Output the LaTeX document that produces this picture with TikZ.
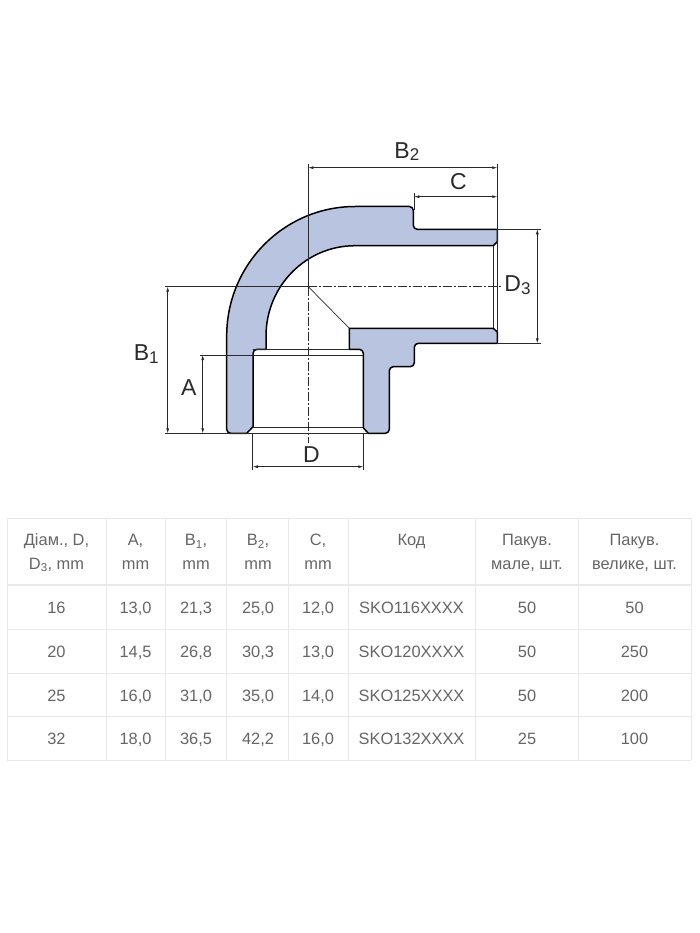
\documentclass[tikz,border=0pt]{standalone}
\usepackage{fontspec}
\setmainfont{Liberation Sans}
\usetikzlibrary{arrows.meta}
\definecolor{bodyblue}{HTML}{B9C4E0}
\definecolor{gridgrey}{HTML}{E9E9E9}
\definecolor{textgrey}{HTML}{666666}
\definecolor{inkgrey}{HTML}{2A2A2A}
\newcommand{\dimsub}[1]{\raisebox{-2.5pt}{\fontsize{17}{17}\selectfont #1}}
\tikzset{
outline/.style={draw=black, fill=bodyblue, line width=1.5pt, line join=round},
bore/.style={draw=inkgrey, line width=1pt},
extline/.style={draw=inkgrey, line width=0.7pt},
dimline/.style={draw=inkgrey, line width=0.7pt, {Latex[length=5pt,width=3pt]}-{Latex[length=5pt,width=3pt]}},
axisline/.style={draw=inkgrey, line width=0.7pt, dash pattern=on 9pt off 2pt on 2pt off 2pt},
dimlabel/.style={text=inkgrey, inner sep=0pt, anchor=base, font=\fontsize{23}{23}\selectfont},
grid/.style={draw=gridgrey, line width=0.8pt},
gridhead/.style={draw=gridgrey, line width=2pt},
cell/.style={text=textgrey, inner sep=0pt, anchor=base, font=\fontsize{16.4}{23.3}\selectfont},
}

\begin{document}
\begin{tikzpicture}[x=1pt, y=-1pt]
    \useasboundingbox[fill=white] (0,0) rectangle (700,933);

    %fitting body
    \path[outline] (226.7,426) -- (226.7,336) arc[start angle=180, end angle=90, x radius=128.5pt, y radius=129.5pt]
        [rounded corners=4pt] -- (413.3,206.5) -- (413.3,229.3) [sharp corners] -- (497.3,229.3)
        -- (497.3,241.7) -- (493.3,245.7) -- (355,245.7) arc[start angle=90, end angle=180, x radius=89pt, y radius=90.3pt]
        -- (266,349.3) [rounded corners=4pt] -- (253,349.3) [sharp corners] -- (253,426.7) -- (246.7,433.3)
        [rounded corners=4pt] -- (226.7,433.3) [sharp corners] -- cycle;
    \path[outline] (349.3,328.3) -- (493.3,328.3) -- (497.3,332) -- (497.3,343.3)
        [rounded corners=4pt] -- (414.3,343.3) -- (414.3,366.7) -- (389.3,366.7) -- (389.3,433.3) [sharp corners] -- (368.3,433.3)
        -- (363.3,427.7) [rounded corners=4pt] -- (363.3,349.3) [sharp corners] -- (349.3,349.3) -- cycle;

    %bore lines
    \coordinate (sockettl) at (253,349.3);
    \coordinate (sockettr) at (349.3,349.3);
    \coordinate (threadl) at (253,355);
    \coordinate (threadr) at (363.3,355);
    \coordinate (lipl) at (253,427.7);
    \coordinate (lipr) at (363.3,427.7);
    \coordinate (basel) at (246.7,433.3);
    \coordinate (baser) at (368.3,433.3);
    \coordinate (mouthtl) at (493.3,245.7);
    \coordinate (mouthbl) at (493.3,328.3);
    \coordinate (mouthtr) at (497.3,241.7);
    \coordinate (mouthbr) at (497.3,332);
    \coordinate (centre) at (308.3,286.7);
    \coordinate (mitre) at (349.3,328.3);
    \draw[bore] (sockettl)--(sockettr);
    \draw[bore] (threadl)--(threadr);
    \draw[bore] (lipl)--(lipr);
    \draw[bore] (basel)--(baser);
    \draw[bore] (mouthtl)--(mouthbl);
    \draw[bore] (mouthtr)--(mouthbr);
    \draw[extline] (centre)--(mitre);

    %axes
    \coordinate (axisr) at (503,286.7);
    \coordinate (axisb) at (308.3,443);
    \draw[axisline] (centre)--(axisr);
    \draw[axisline] (centre)--(axisb);

    %extension lines
    \coordinate (b2top) at (308.3,164.5);
    \coordinate (b2topr) at (497.3,164.5);
    \coordinate (cext) at (414.3,193.5);
    \coordinate (cextb) at (414.3,210);
    \coordinate (d3extt) at (497.3,229.3);
    \coordinate (d3exttr) at (540.5,229.3);
    \coordinate (d3extb) at (497.3,343.3);
    \coordinate (d3extbr) at (540.5,343.3);
    \coordinate (b1extt) at (165,286.7);
    \coordinate (b1extb) at (165,433.3);
    \coordinate (aext) at (200,355);
    \coordinate (dextl) at (252.8,433.3);
    \coordinate (dextlb) at (252.8,469.5);
    \coordinate (dextr) at (363.3,433.3);
    \coordinate (dextrb) at (363.3,469.5);
    \draw[extline] (b2top)--(centre);
    \draw[extline] (b2topr)--(mouthtr);
    \draw[extline] (cext)--(cextb);
    \draw[extline] (d3extt)--(d3exttr);
    \draw[extline] (d3extb)--(d3extbr);
    \draw[extline] (b1extt)--(centre);
    \draw[extline] (b1extb)--(basel);
    \draw[extline] (aext)--(threadl);
    \draw[extline] (dextl)--(dextlb);
    \draw[extline] (dextr)--(dextrb);

    %dimension lines
    \coordinate (b2l) at (308.3,167.7);
    \coordinate (b2r) at (497.3,167.7);
    \coordinate (cl) at (414.3,196.7);
    \coordinate (cr) at (497.3,196.7);
    \coordinate (d3t) at (537.3,229.3);
    \coordinate (d3b) at (537.3,343.3);
    \coordinate (b1t) at (167.7,286.7);
    \coordinate (b1b) at (167.7,433.3);
    \coordinate (at) at (202.7,355);
    \coordinate (ab) at (202.7,433.3);
    \coordinate (dl) at (252.8,466.7);
    \coordinate (dr) at (363.3,466.7);
    \draw[dimline] (b2l)--(b2r);
    \draw[dimline] (cl)--(cr);
    \draw[dimline] (d3t)--(d3b);
    \draw[dimline] (b1t)--(b1b);
    \draw[dimline] (at)--(ab);
    \draw[dimline] (dl)--(dr);

    %dimension labels
    \node[dimlabel] (labelbtwo) at (406.8,158.3) {B\dimsub{2}};
    \node[dimlabel] (labelc) at (458.3,190) {C};
    \node[dimlabel] (labeldthree) at (517.5,291.7) {D\dimsub{3}};
    \node[dimlabel] (labelbone) at (146.2,360.7) {B\dimsub{1}};
    \node[dimlabel] (labela) at (188.8,395) {A};
    \node[dimlabel] (labeld) at (311.5,462.7) {D};

    %table frame
    \coordinate (tl) at (7.3,518);
    \coordinate (tr) at (691,518);
    \coordinate (hl) at (7.3,585);
    \coordinate (hr) at (691,585);
    \coordinate (rl1) at (7.3,629.3);
    \coordinate (rr1) at (691,629.3);
    \coordinate (rl2) at (7.3,673.3);
    \coordinate (rr2) at (691,673.3);
    \coordinate (rl3) at (7.3,716.7);
    \coordinate (rr3) at (691,716.7);
    \coordinate (bl) at (7.3,760);
    \coordinate (br) at (691,760);
    \draw[grid] (tl)--(tr);
    \draw[gridhead] (hl)--(hr);
    \draw[grid] (rl1)--(rr1);
    \draw[grid] (rl2)--(rr2);
    \draw[grid] (rl3)--(rr3);
    \draw[grid] (bl)--(br);
    \draw[grid] (tl)--(bl);
    \draw[grid] (tr)--(br);

    %table columns
    \coordinate (ct1) at (106.7,518);
    \coordinate (cb1) at (106.7,760);
    \coordinate (ct2) at (165.7,518);
    \coordinate (cb2) at (165.7,760);
    \coordinate (ct3) at (226.7,518);
    \coordinate (cb3) at (226.7,760);
    \coordinate (ct4) at (288.7,518);
    \coordinate (cb4) at (288.7,760);
    \coordinate (ct5) at (348.3,518);
    \coordinate (cb5) at (348.3,760);
    \coordinate (ct6) at (475.3,518);
    \coordinate (cb6) at (475.3,760);
    \coordinate (ct7) at (578.3,518);
    \coordinate (cb7) at (578.3,760);
    \draw[grid] (ct1)--(cb1);
    \draw[grid] (ct2)--(cb2);
    \draw[grid] (ct3)--(cb3);
    \draw[grid] (ct4)--(cb4);
    \draw[grid] (ct5)--(cb5);
    \draw[grid] (ct6)--(cb6);
    \draw[grid] (ct7)--(cb7);

    %header row
    \node[cell, align=center] (head1) at (56.5,569) {Діам., D,\\D\textsubscript{3}, mm};
    \node[cell, align=center] (head2) at (135.5,569) {A,\\mm};
    \node[cell, align=center] (head3) at (196,569) {B\textsubscript{1},\\mm};
    \node[cell, align=center] (head4) at (258,569) {B\textsubscript{2},\\mm};
    \node[cell, align=center] (head5) at (318,569) {C,\\mm};
    \node[cell] (head6) at (411.5,545.7) {Код};
    \node[cell, align=center] (head7) at (527,569) {Пакув.\\мале, шт.};
    \node[cell, align=center] (head8) at (634.5,569) {Пакув.\\велике, шт.};

    %row 16
    \node[cell] (a1) at (56.5,613.5) {16};
    \node[cell] (b1) at (135.5,613.5) {13,0};
    \node[cell] (c1) at (196,613.5) {21,3};
    \node[cell] (d1) at (258,613.5) {25,0};
    \node[cell] (e1) at (318,613.5) {12,0};
    \node[cell] (f1) at (411.5,613.5) {SKO116XXXX};
    \node[cell] (g1) at (527,613.5) {50};
    \node[cell] (h1) at (634.5,613.5) {50};

    %row 20
    \node[cell] (a2) at (56.5,657.5) {20};
    \node[cell] (b2) at (135.5,657.5) {14,5};
    \node[cell] (c2) at (196,657.5) {26,8};
    \node[cell] (d2) at (258,657.5) {30,3};
    \node[cell] (e2) at (318,657.5) {13,0};
    \node[cell] (f2) at (411.5,657.5) {SKO120XXXX};
    \node[cell] (g2) at (527,657.5) {50};
    \node[cell] (h2) at (634.5,657.5) {250};

    %row 25
    \node[cell] (a3) at (56.5,701) {25};
    \node[cell] (b3) at (135.5,701) {16,0};
    \node[cell] (c3) at (196,701) {31,0};
    \node[cell] (d3) at (258,701) {35,0};
    \node[cell] (e3) at (318,701) {14,0};
    \node[cell] (f3) at (411.5,701) {SKO125XXXX};
    \node[cell] (g3) at (527,701) {50};
    \node[cell] (h3) at (634.5,701) {200};

    %row 32
    \node[cell] (a4) at (56.5,744.3) {32};
    \node[cell] (b4) at (135.5,744.3) {18,0};
    \node[cell] (c4) at (196,744.3) {36,5};
    \node[cell] (d4) at (258,744.3) {42,2};
    \node[cell] (e4) at (318,744.3) {16,0};
    \node[cell] (f4) at (411.5,744.3) {SKO132XXXX};
    \node[cell] (g4) at (527,744.3) {25};
    \node[cell] (h4) at (634.5,744.3) {100};
\end{tikzpicture}
\end{document}
